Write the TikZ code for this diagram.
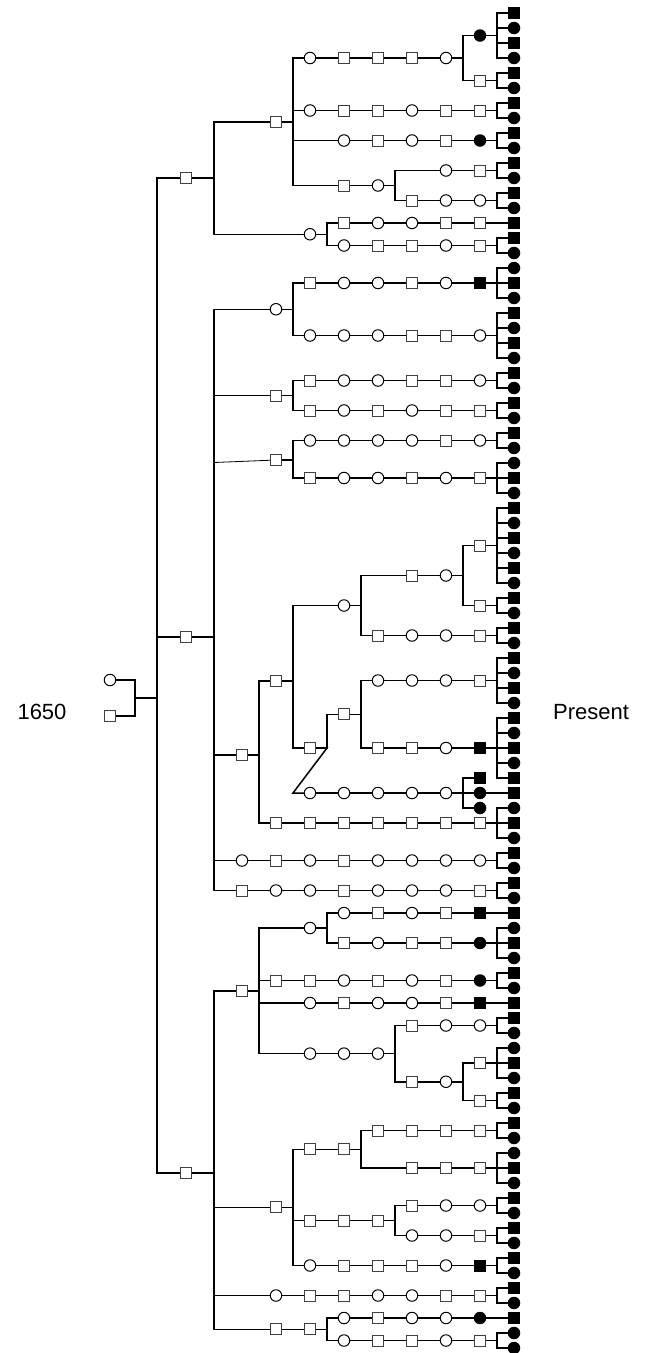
\documentclass[tikz,border=0pt]{standalone}
\usepackage{fontspec}
\setmainfont{Liberation Sans}
\usetikzlibrary{backgrounds}

% one line of descent, left to right: #1 name, #2 height, #3 first column, #4 marks
\newcommand\lineage[4]{%
  \foreach \mk [count=\k from #3] in {#4}
    \node[\mk] (#1-\k) at ({\Xa+\Xd*\k},#2) {};
  \begin{scope}[on background layer]
    \foreach \mk [count=\k from #3] in {#4}{%
      \ifnum\k>#3\relax
        \pgfmathtruncatemacro\kk{\k-1}%
        \draw[link] (#1-\kk.center) -- (#1-\k.center);
      \fi}
  \end{scope}}

\begin{document}
\begin{tikzpicture}[x=1pt, y=-1pt,
    male/.style   ={rectangle, draw=black!75, line width=1pt, fill=white, minimum size=11pt, inner sep=0pt, outer sep=0pt},
    female/.style ={circle, draw=black, line width=1pt, fill=white, minimum size=11.5pt, inner sep=0pt, outer sep=0pt},
    amale/.style  ={rectangle, fill=black, minimum size=12pt, inner sep=0pt, outer sep=0pt},
    afemale/.style={circle, fill=black, minimum size=12.5pt, inner sep=0pt, outer sep=0pt},
    link/.style   ={line width=1.5pt},
    era/.style    ={font=\fontsize{22}{26}\selectfont, inner sep=0pt},
  ]

  % ---------------- geometry -------------------------------------------------
  \def\Xa{242}                                       % first generation column
  \def\Xd{34}                                        % step between generations
  \useasboundingbox (0,0) rectangle (653,1353);

  % ---------------- the two ends of the time line ----------------------------
  \node[era] (past) at (42,712) {1650};
  \node[era] (now)  at (591,712) {Present};

  % ---------------- founders and the three branches --------------------------
  \node[female] (rootF) at (110,680) {};
  \node[male]   (rootM) at (110,716) {};
  \coordinate (join) at (135,698);
  \coordinate (hub)  at (157,698);
  \node[male] (G1) at (186,178)  {};
  \node[male] (G2) at (186,637)  {};
  \node[male] (G3) at (186,1173) {};

  % ---------------- present day ----------------------------------------------
  \foreach \mk [count=\i from 0] in {
      amale,afemale,amale,afemale,amale,afemale,amale,afemale,amale,afemale,   % 0-9
      amale,afemale,amale,afemale,amale,amale,afemale,afemale,amale,afemale,   % 10-19
      amale,afemale,amale,afemale,amale,afemale,amale,afemale,amale,afemale,   % 20-29
      afemale,amale,afemale,amale,afemale,amale,afemale,amale,afemale,amale,   % 30-39
      afemale,amale,afemale,amale,afemale,amale,afemale,amale,afemale,amale,   % 40-49
      afemale,amale,amale,afemale,amale,afemale,amale,afemale,amale,afemale,   % 50-59
      amale,afemale,amale,afemale,amale,afemale,amale,amale,afemale,afemale,   % 60-69
      amale,afemale,amale,afemale,amale,afemale,afemale,amale,afemale,amale,   % 70-79
      afemale,amale,afemale,amale,afemale,amale,afemale,amale,afemale,afemale} % 80-89
    \node[\mk] (leaf\i) at (514,13+15*\i) {};

  % ---------------- first branch ---------------------------------------------
  \lineage{fa}{35.5}{7}{afemale}
  \lineage{fb}{80.5}{7}{male}
  \lineage{ra}{58}{2}{female,male,male,male,female}
  \lineage{rb}{110.5}{2}{female,male,male,female,male,male}
  \lineage{rc}{140.5}{3}{female,male,female,male,afemale}
  \lineage{rd1}{170.5}{6}{female,male}
  \lineage{rd2}{200.5}{5}{male,female,female}
  \lineage{rd}{185.5}{3}{male,female}
  \lineage{A}{121.75}{1}{male}
  \lineage{re1}{223}{3}{male,female,female,male,male}
  \lineage{re2}{245.5}{3}{female,male,male,female,male}
  \lineage{B}{234.25}{2}{female}

  % ---------------- second branch --------------------------------------------
  \lineage{sa}{283}{2}{male,female,female,male,female,amale}
  \lineage{sb}{335.5}{2}{female,female,female,male,male,female}
  \lineage{C}{309.25}{1}{female}
  \lineage{sc}{380.5}{2}{male,female,female,male,male,female}
  \lineage{sd}{410.5}{2}{male,female,male,female,male,male}
  \lineage{D}{395.5}{1}{male}
  \lineage{se}{440.5}{2}{female,female,female,female,male,female}
  \lineage{sf}{478}{2}{male,female,female,male,female,male}
  \lineage{E}{460}{1}{male}
  \lineage{ga}{545.5}{7}{male}
  \lineage{gb}{605.5}{7}{male}
  \lineage{ta}{575.5}{5}{male,female}
  \lineage{tb}{635.5}{4}{male,female,female,male}
  \lineage{H}{605.5}{3}{female}
  \lineage{tc}{680.5}{4}{female,female,female,male}
  \lineage{td}{748}{4}{male,male,female,amale}
  \lineage{I}{714.25}{3}{male}
  \lineage{te}{793}{2}{female,female,female,female,female}
  \lineage{tf1}{778}{7}{amale}
  \lineage{tf2}{793}{7}{afemale}
  \lineage{tf3}{808}{7}{afemale}
  \lineage{J}{748}{2}{male}
  \lineage{K}{681}{1}{male}
  \lineage{tg}{823}{1}{male,male,male,male,male,male,male}
  \lineage{F}{755}{0}{male}
  \lineage{sg}{860.5}{0}{female,male,female,male,female,female,female,female}
  \lineage{sh}{890.5}{0}{male,female,female,male,female,female,female,male}

  % ---------------- third branch ---------------------------------------------
  \lineage{ua}{913}{3}{female,male,female,male,amale}
  \lineage{ub}{943}{3}{male,female,male,male,afemale}
  \lineage{L}{928}{2}{female}
  \lineage{uc}{980.5}{1}{male,male,female,male,female,male,afemale}
  \lineage{ud}{1003}{2}{female,male,female,female,male,amale}
  \lineage{ue1}{1025.5}{5}{male,female,female}
  \lineage{va}{1063}{7}{male}
  \lineage{vb}{1100.5}{7}{male}
  \lineage{ue2}{1081.75}{5}{male,female}
  \lineage{ue}{1053.6}{2}{female,female,female}
  \lineage{M}{990.8}{0}{male}
  \lineage{wa}{1130.5}{4}{male,male,male,male}
  \lineage{wb}{1168}{5}{male,male,male}
  \lineage{w}{1149.25}{2}{male,male}
  \lineage{xa}{1205.5}{5}{male,female,female}
  \lineage{xb}{1235.5}{5}{female,female,male}
  \lineage{x}{1220.5}{2}{male,male,male}
  \lineage{xc}{1265.5}{2}{female,male,male,male,female,amale}
  \lineage{N}{1207.4}{1}{male}
  \lineage{ya}{1295.5}{1}{female,male,male,female,female,male,male}
  \lineage{za}{1318}{3}{female,male,female,female,afemale}
  \lineage{zb}{1340.5}{3}{female,male,male,female,male}
  \lineage{z}{1329.25}{1}{male,male}

  % odd bends drawn by hand in the original
  \coordinate (Efoot)  at (214,462.5);
  \coordinate (tebend) at (293,793);

  % ---------------- connectors -----------------------------------------------
  \begin{scope}[on background layer]
    % families at the present day
    \foreach \p/\a/\b in {fa-7/0/3, fb-7/4/5, rb-7/6/7, rc-7/8/9, rd1-7/10/11, rd2-7/12/13,
        re1-7/14/14, re2-7/15/16, sa-7/17/19, sb-7/20/23, sc-7/24/25, sd-7/26/27,
        se-7/28/29, sf-7/30/32, ga-7/33/38, gb-7/39/40, tb-7/41/42, tc-7/43/46,
        td-7/47/51, tf2-7/52/52, tg-7/53/55, sg-7/56/57, sh-7/58/59, ua-7/60/60,
        ub-7/61/63, uc-7/64/65, ud-7/66/66, ue1-7/67/68, va-7/69/71, vb-7/72/73,
        wa-7/74/75, wb-7/76/78, xa-7/79/80, xb-7/81/82, xc-7/83/84, ya-7/85/86,
        za-7/87/87, zb-7/88/89}
      \foreach \i in {\a,...,\b}
        \draw[link] (\p.center) -- ++(17,0) |- (leaf\i.center);
    % parent to the first of each line
    \foreach \p/\c in {ra-6/fa-7, ra-6/fb-7, rd-4/rd1-6, rd-4/rd2-5, A-1/ra-2, A-1/rb-2,
        A-1/rc-3, A-1/rd-3, B-2/re1-3, B-2/re2-3, C-1/sa-2, C-1/sb-2, D-1/sc-2, D-1/sd-2,
        E-1/se-2, E-1/sf-2, ta-6/ga-7, ta-6/gb-7, H-3/ta-5, H-3/tb-4, I-3/tc-4, I-3/td-4,
        te-6/tf1-7, te-6/tf2-7, te-6/tf3-7, J-2/I-3, K-1/H-3, K-1/J-2, F-0/K-1, F-0/tg-1,
        L-2/ua-3, L-2/ub-3, ue2-6/va-7, ue2-6/vb-7, ue-4/ue1-5, ue-4/ue2-5, M-0/L-2,
        M-0/uc-1, M-0/ud-2, M-0/ue-2, w-3/wa-4, w-3/wb-5, x-4/xa-5, x-4/xb-5, N-1/w-2,
        N-1/x-2, N-1/xc-2, z-2/za-3, z-2/zb-3}
      \draw[link] (\p.center) -- ++(17,0) |- (\c.center);
    % the three branches
    \foreach \p/\c in {G1/A-1, G1/B-2, G2/C-1, G2/D-1, G2/F-0, G2/sg-0, G2/sh-0,
        G3/M-0, G3/N-1, G3/ya-1, G3/z-1}
      \draw[link] (\p.center) -- ++(28,0) |- (\c.center);
    \draw[line width=0.8pt] (Efoot) -- (E-1.center);
    \draw[link] (J-2.center) -- ++(17,0) -- (tebend) -- (te-2.center);
    % founders
    \draw[link] (rootF.center) -| (join);
    \draw[link] (rootM.center) -| (join);
    \draw[link] (join) -- (hub);
    \foreach \g in {G1,G2,G3}
      \draw[link] (hub) |- (\g.center);
  \end{scope}

\end{tikzpicture}
\end{document}
